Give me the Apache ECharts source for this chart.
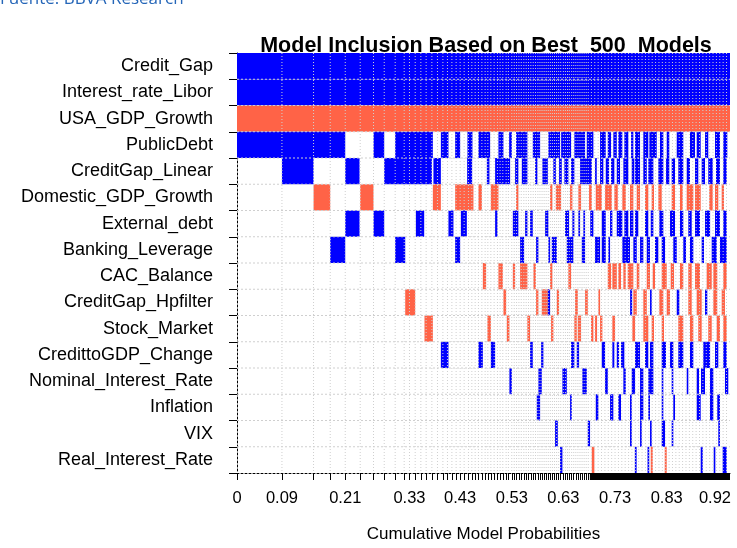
<!DOCTYPE html>
<html>
<head>
<meta charset="utf-8">
<script src="https://cdn.jsdelivr.net/npm/echarts@6/dist/echarts.min.js"></script>
<style>html,body{margin:0;padding:0;background:#fff;}#chart{width:737px;height:548px;}</style>
</head>
<body>
<div id="chart"></div>
<script>
// ---- Data (cumulative model probability intervals; sign 1 = positive/blue, -1 = negative/red) ----
const variables = ['Credit_Gap','Interest_rate_Libor','USA_GDP_Growth','PublicDebt','CreditGap_Linear',
  'Domestic_GDP_Growth','External_debt','Banking_Leverage','CAC_Balance','CreditGap_Hpfilter','Stock_Market',
  'CredittoGDP_Change','Nominal_Interest_Rate','Inflation','VIX','Real_Interest_Rate'];

const totalProb = 0.9487;

const creditGap = [[0, 0.9487, 1]];
const interestRateLibor = [[0, 0.9487, 1]];
const usaGdpGrowth = [[0, 0.9487, -1]];
const publicDebt = [[0,0.2083,1],[0.2627,0.2833,1],[0.3044,0.3769,1],[0.3923,0.4069,1],[0.4198,0.4294,1],[0.4435,0.4531,1],[0.4646,0.4871,1],[0.5031,0.5127,1],[0.5237,0.5288,1],[0.5371,0.5588,1],[0.5692,0.5833,1],[0.5992,0.6217,1],[0.6237,0.6429,1],[0.6492,0.6698,1],[0.6731,0.6858,1],[0.6987,0.7096,1],[0.7135,0.7198,1],[0.7242,0.7308,1],[0.7338,0.7415,1],[0.7454,0.7531,1],[0.7583,0.7627,1],[0.766,0.7756,1],[0.7819,0.7915,1],[0.7935,0.8077,1],[0.814,0.8204,1],[0.8269,0.8319,1],[0.8462,0.8588,1],[0.8717,0.8813,1],[0.8846,0.8923,1],[0.9006,0.9069,1],[0.9198,0.9294,1],[0.9358,0.9435,1]];
const creditGapLinear = [[0.0865,0.1473,1],[0.2083,0.2358,1],[0.2833,0.375,1],[0.378,0.3923,1],[0.4429,0.4525,1],[0.4808,0.4858,1],[0.4967,0.5256,1],[0.5352,0.5415,1],[0.5481,0.5588,1],[0.5737,0.5781,1],[0.5877,0.5981,1],[0.6088,0.6135,1],[0.6198,0.625,1],[0.63,0.6377,1],[0.6429,0.6492,1],[0.6602,0.6827,1],[0.689,0.6923,1],[0.6987,0.705,1],[0.7096,0.716,1],[0.7198,0.7262,1],[0.7308,0.7371,1],[0.7435,0.7531,1],[0.7596,0.7646,1],[0.766,0.7756,1],[0.7819,0.7885,1],[0.7915,0.8012,1],[0.8108,0.8204,1],[0.8256,0.8319,1],[0.8365,0.8429,1],[0.8492,0.8588,1],[0.8654,0.8717,1],[0.8813,0.8877,1],[0.8942,0.9006,1],[0.9069,0.9154,1],[0.9217,0.9294,1],[0.9358,0.9423,1]];
const domesticGdpGrowth = [[0.1473,0.1794,-1],[0.2371,0.2627,-1],[0.3769,0.3923,-1],[0.4198,0.455,-1],[0.4646,0.4712,-1],[0.4885,0.5031,-1],[0.5371,0.5415,-1],[0.6025,0.6069,-1],[0.6135,0.6237,-1],[0.641,0.6454,-1],[0.6569,0.6621,-1],[0.6775,0.6827,-1],[0.6904,0.7019,-1],[0.7083,0.7212,-1],[0.7262,0.7327,-1],[0.7415,0.7481,-1],[0.7563,0.7627,-1],[0.7692,0.7756,-1],[0.7852,0.7915,-1],[0.798,0.8025,-1],[0.8108,0.8173,-1],[0.8365,0.8429,-1],[0.8525,0.8577,-1],[0.8654,0.8781,-1],[0.8813,0.8923,-1],[0.9088,0.9154,-1],[0.9198,0.9262,-1],[0.9327,0.9371,-1]];
const externalDebt = [[0.2083,0.2358,1],[0.2627,0.2833,1],[0.3442,0.3602,1],[0.4069,0.4165,1],[0.4308,0.4423,1],[0.4967,0.5012,1],[0.5308,0.5415,1],[0.5544,0.5588,1],[0.564,0.5692,1],[0.5929,0.5992,1],[0.6313,0.639,1],[0.6454,0.6492,1],[0.6569,0.6602,1],[0.6665,0.6698,1],[0.6798,0.6858,1],[0.7019,0.7096,1],[0.7179,0.7223,1],[0.7308,0.7415,1],[0.7454,0.7531,1],[0.7563,0.7627,1],[0.766,0.7723,1],[0.7852,0.7915,1],[0.7962,0.8012,1],[0.8127,0.8204,1],[0.8333,0.8429,1],[0.8525,0.8588,1],[0.8685,0.875,1],[0.8813,0.891,1],[0.9006,0.9104,1],[0.9198,0.9294,1],[0.9358,0.9423,1]];
const bankingLeverage = [[0.1794,0.2083,1],[0.3044,0.3237,1],[0.4198,0.4294,1],[0.5448,0.5525,1],[0.5756,0.58,1],[0.5992,0.6025,1],[0.6058,0.6154,1],[0.6346,0.6473,1],[0.6635,0.6698,1],[0.689,0.6987,1],[0.7019,0.7096,1],[0.7146,0.7179,1],[0.7415,0.7563,1],[0.7627,0.7692,1],[0.7756,0.7819,1],[0.7885,0.7948,1],[0.8044,0.8108,1],[0.8173,0.8237,1],[0.8396,0.8462,1],[0.8588,0.864,1],[0.8717,0.8781,1],[0.8942,0.8987,1],[0.9135,0.9231,1],[0.9294,0.9423,1]];
const cacBalance = [[0.4731,0.4794,-1],[0.5031,0.5115,-1],[0.5308,0.5352,-1],[0.5448,0.5588,-1],[0.5704,0.575,-1],[0.6025,0.6069,-1],[0.6377,0.6429,-1],[0.7135,0.7198,-1],[0.7223,0.7308,-1],[0.7338,0.739,-1],[0.7435,0.7481,-1],[0.7519,0.7627,-1],[0.7692,0.7742,-1],[0.7885,0.7948,-1],[0.8,0.8044,-1],[0.8173,0.8269,-1],[0.8346,0.841,-1],[0.8525,0.8588,-1],[0.8685,0.875,-1],[0.8813,0.891,-1],[0.9038,0.9135,-1],[0.9166,0.9242,-1],[0.9358,0.9423,-1]];
const creditGapHpfilter = [[0.3237,0.3429,-1],[0.5127,0.5179,-1],[0.5756,0.58,-1],[0.5865,0.5981,-1],[0.5981,0.6025,1],[0.6154,0.6198,-1],[0.6506,0.6558,-1],[0.6698,0.675,-1],[0.6954,0.6987,-1],[0.7565,0.7604,1],[0.7627,0.7692,-1],[0.7819,0.7885,-1],[0.7948,0.798,1],[0.8127,0.8204,-1],[0.8269,0.8333,-1],[0.8462,0.8512,1],[0.8685,0.875,-1],[0.8846,0.8942,-1],[0.9006,0.905,1],[0.9166,0.9242,-1],[0.9327,0.939,-1]];
const stockMarket = [[0.3608,0.3769,-1],[0.4819,0.4885,-1],[0.5192,0.5242,-1],[0.5588,0.564,-1],[0.6044,0.6088,-1],[0.6492,0.6538,-1],[0.6558,0.6621,-1],[0.6813,0.6858,-1],[0.689,0.6929,-1],[0.6987,0.7031,-1],[0.7223,0.7275,-1],[0.7608,0.766,-1],[0.7819,0.7915,-1],[0.798,0.8025,-1],[0.8173,0.8217,-1],[0.8492,0.8588,-1],[0.8717,0.8781,-1],[0.8877,0.8942,-1],[0.9069,0.9135,-1],[0.9231,0.9294,-1],[0.9358,0.9423,-1]];
const credittoGdpChange = [[0.3923,0.4069,1],[0.4646,0.4731,1],[0.4885,0.4967,1],[0.564,0.5692,1],[0.5852,0.5896,1],[0.6429,0.6492,1],[0.6538,0.6583,1],[0.7019,0.7083,1],[0.7223,0.7262,1],[0.7308,0.7352,1],[0.739,0.7454,1],[0.766,0.7756,1],[0.7852,0.7915,1],[0.7948,0.8012,1],[0.8173,0.8256,1],[0.8333,0.8396,1],[0.8492,0.8588,1],[0.8717,0.8781,1],[0.8973,0.9104,1],[0.9198,0.9262,1],[0.9358,0.9423,1]];
const nominalInterestRate = [[0.5242,0.5288,1],[0.58,0.5865,1],[0.6262,0.6346,1],[0.6646,0.6731,1],[0.7083,0.7135,1],[0.7435,0.7481,1],[0.7596,0.766,1],[0.7756,0.7819,1],[0.7915,0.8012,1],[0.8173,0.8204,1],[0.8365,0.8396,1],[0.8654,0.8685,1],[0.8846,0.8891,1],[0.8929,0.9006,1],[0.9102,0.9166,1],[0.939,0.9454,1]];
const inflation = [[0.5769,0.5833,1],[0.641,0.6442,1],[0.6904,0.6954,1],[0.7179,0.7242,1],[0.7338,0.739,1],[0.7563,0.7596,1],[0.7756,0.7819,1],[0.7915,0.7948,1],[0.8173,0.8204,1],[0.8396,0.8429,1],[0.8846,0.8923,1],[0.9102,0.9166,1],[0.9242,0.9294,1]];
const vix = [[0.6121,0.6173,1],[0.675,0.6794,1],[0.7563,0.7596,1],[0.7756,0.7788,1],[0.7948,0.798,1],[0.8173,0.8237,1],[0.8365,0.8396,1],[0.9262,0.9294,1]];
const realInterestRate = [[0.6217,0.6262,1],[0.6827,0.6877,-1],[0.7656,0.769,1],[0.79,0.7933,1],[0.7962,0.8,-1],[0.8231,0.8269,-1],[0.8923,0.8962,1],[0.9173,0.9205,1],[0.9346,0.9423,1]];

// model boundaries (cumulative probabilities) where ticks are drawn
const tickBounds = [0,0.0865,0.1473,0.1794,0.2083,0.2371,0.2627,0.2833,0.3044,0.3217,0.3319,0.3429,0.3538,0.364,0.375,0.3858,0.3962,0.405,0.4135,0.4217,0.4294,0.4371,0.4454,0.4519,0.4583,0.4646,0.4712,0.4775,0.4827,0.4885,0.4948,0.5012,0.5063,0.5115,0.5179,0.5223,0.5288,0.5335,0.538,0.5425,0.547,0.552,0.5565,0.561,0.5655,0.57,0.5745,0.579,0.583,0.587,0.591,0.595,0.599,0.603,0.607,0.611,0.615,0.619,0.623,0.628,0.632,0.636,0.6395,0.644,0.648,0.652,0.656,0.66,0.664,0.668,0.672,0.676];
// range where model ticks merge into a solid band (many tiny models)
const denseTickRange = [0.679, 0.9487];
// dotted grid columns visible in the dense tail
const tailGrid = [0.682,0.6885,0.695,0.7015,0.708,0.7145,0.721,0.7275,0.734,0.7405,0.747,0.7535,0.76,0.7665,0.773,0.7795,0.786,0.7925,0.799,0.8055,0.812,0.8185,0.825,0.8315,0.838,0.8445,0.851,0.8575,0.864,0.8705,0.877,0.8835,0.89,0.8965,0.903,0.9095,0.916,0.9225,0.929,0.9355,0.942];
// labelled tick positions and their texts
const labelValues = [0,0.0865,0.2083,0.3319,0.4294,0.5288,0.628,0.7275,0.8269,0.9198];
const labelTexts = ['0','0.09','0.21','0.33','0.43','0.53','0.63','0.73','0.83','0.92'];

// ---- build ----
const rows = [creditGap, interestRateLibor, usaGdpGrowth, publicDebt, creditGapLinear, domesticGdpGrowth,
  externalDebt, bankingLeverage, cacBalance, creditGapHpfilter, stockMarket, credittoGdpChange,
  nominalInterestRate, inflation, vix, realInterestRate];
const cellData = [];
rows.forEach((arr, i) => arr.forEach(iv => cellData.push([iv[0], iv[1], i, iv[2]])));
const gridX = tickBounds.slice(1).concat(tailGrid).map(v => [v]);
const gridY = variables.slice(1).map((_, i) => [i + 1]);
const lastRow = variables.length - 1;

const FONT = '"Liberation Sans", Arial, sans-serif';
const BLUE = '#0000FF', RED = '#FF6347', GRID = '#cfcfcf';

const chart = echarts.init(document.getElementById('chart'));
chart.setOption({
  animation: false,
  backgroundColor: '#ffffff',
  grid: { left: 237, right: 7, top: 53, bottom: 68, containLabel: false },
  graphic: [
    { type: 'text', left: 0, top: -9, silent: true,
      style: { text: 'Fuente: BBVA Research', fill: '#2566b8', font: '17px "Open Sans", sans-serif' } },
    { type: 'text', x: 486, y: 46, silent: true,
      style: { text: 'Model Inclusion Based on Best  500  Models', fill: '#000', font: 'bold 21.5px ' + FONT,
        textAlign: 'center', textVerticalAlign: 'middle' } }
  ],
  xAxis: {
    type: 'value', min: 0, max: totalProb,
    name: 'Cumulative Model Probabilities', nameLocation: 'middle', nameGap: 53,
    nameTextStyle: { fontFamily: FONT, fontSize: 17, color: '#000' },
    axisLine: { show: true, lineStyle: { color: '#000', width: 1, type: [2, 2] } },
    axisTick: { show: true, length: 7, customValues: tickBounds, lineStyle: { color: '#000', width: 1 } },
    axisLabel: { customValues: labelValues, margin: 17, fontFamily: FONT, fontSize: 16.5, color: '#000',
      formatter: v => { const i = labelValues.indexOf(v); return i >= 0 ? labelTexts[i] : ''; } },
    splitLine: { show: false }
  },
  yAxis: {
    type: 'category', data: variables, inverse: true,
    axisLine: { show: true, lineStyle: { color: '#000', width: 1, type: [2, 2] } },
    axisTick: { show: true, length: 8, lineStyle: { color: '#000' } },
    axisLabel: { interval: 0, margin: 24, fontFamily: FONT, fontSize: 18, color: '#000', padding: [3, 0, 0, 0] },
    splitLine: { show: false }
  },
  series: [
    { type: 'custom', name: 'cells', z: 2, silent: true, data: cellData,
      encode: { x: [0, 1], y: 2 },
      renderItem: (params, api) => {
        const p0 = api.coord([api.value(0), api.value(2)]);
        const p1 = api.coord([api.value(1), api.value(2)]);
        const h = api.size([0, 1])[1];
        return { type: 'rect', shape: { x: p0[0], y: p0[1] - h / 2, width: Math.max(p1[0] - p0[0], 1), height: h },
          style: { fill: api.value(3) > 0 ? BLUE : RED } };
      } },
    { type: 'custom', name: 'vgrid', z: 3, silent: true, data: gridX, encode: { x: 0 },
      renderItem: (params, api) => {
        const h = api.size([0, 1])[1];
        const top = api.coord([api.value(0), 0]);
        const bot = api.coord([api.value(0), lastRow]);
        return { type: 'line', shape: { x1: top[0], y1: top[1] - h / 2, x2: top[0], y2: bot[1] + h / 2 },
          style: { stroke: GRID, lineWidth: 1, lineDash: [1, 2] } };
      } },
    { type: 'custom', name: 'hgrid', z: 3, silent: true, data: gridY, encode: { y: 0 },
      renderItem: (params, api) => {
        const h = api.size([0, 1])[1];
        const a = api.coord([0, api.value(0)]);
        const b = api.coord([totalProb, api.value(0)]);
        return { type: 'line', shape: { x1: a[0], y1: a[1] - h / 2, x2: b[0], y2: b[1] - h / 2 },
          style: { stroke: GRID, lineWidth: 1, lineDash: [2, 2] } };
      } },
    { type: 'custom', name: 'denseTicks', z: 3, silent: true, data: [denseTickRange], encode: { x: [0, 1] },
      renderItem: (params, api) => {
        const h = api.size([0, 1])[1];
        const a = api.coord([api.value(0), lastRow]);
        const b = api.coord([api.value(1), lastRow]);
        return { type: 'rect', shape: { x: a[0], y: a[1] + h / 2, width: b[0] - a[0], height: 7 },
          style: { fill: '#000' } };
      } }
  ]
});
</script>
</body>
</html>
